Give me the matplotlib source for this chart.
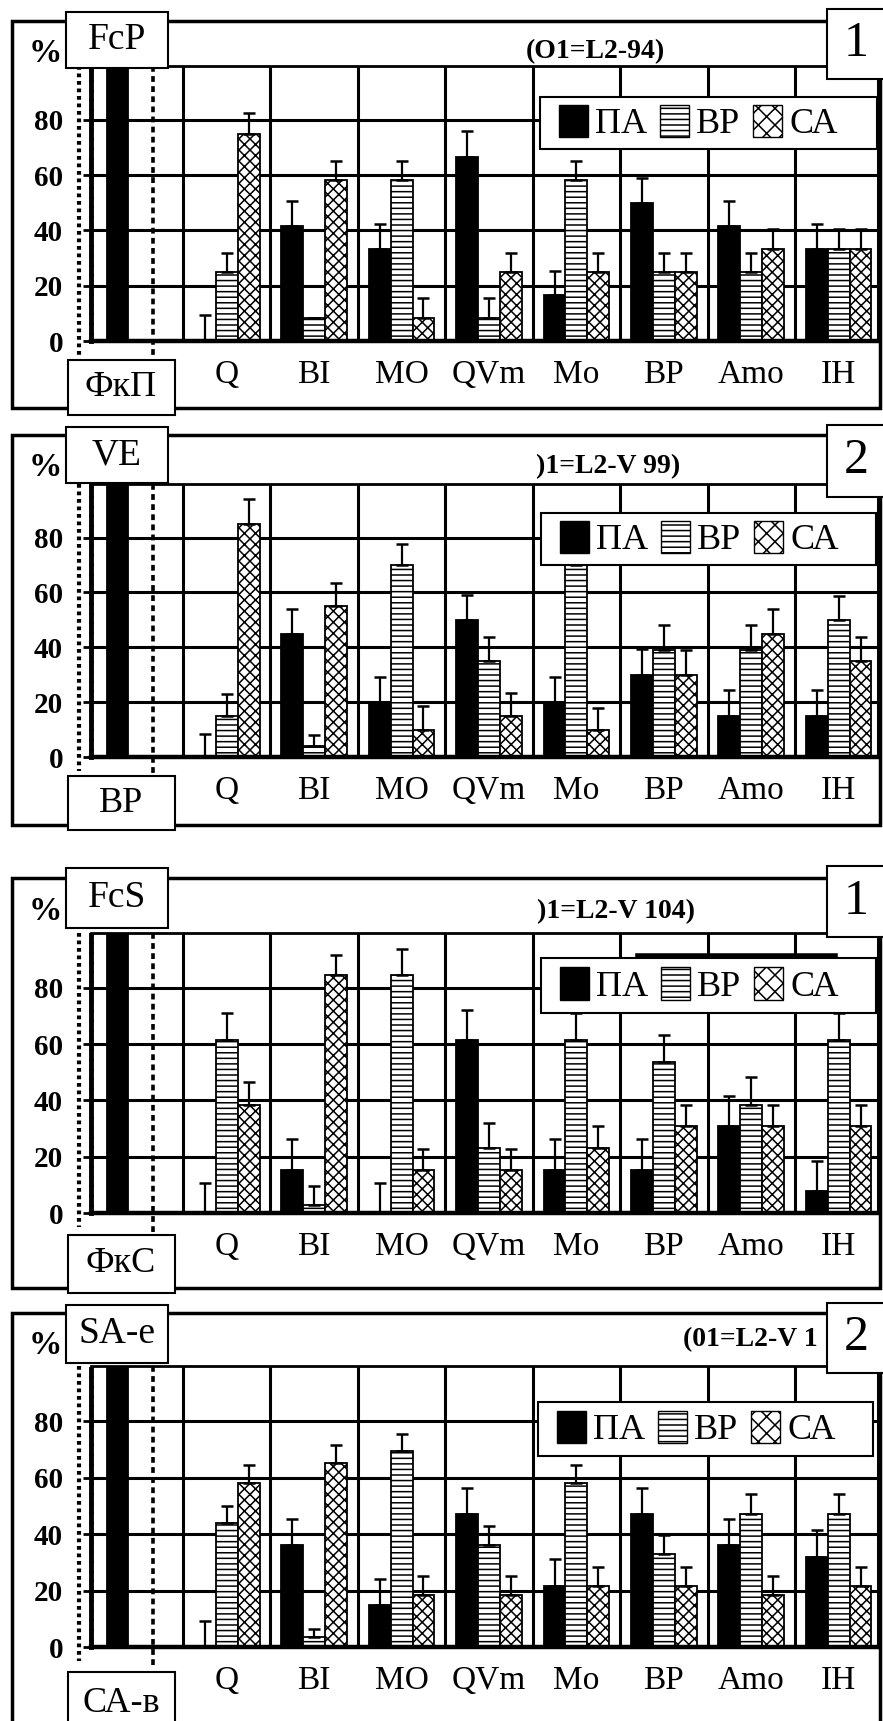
import numpy as np
import matplotlib
matplotlib.use("Agg")
import matplotlib.pyplot as plt
from matplotlib.patches import Rectangle, Patch
from matplotlib.lines import Line2D

plt.rcParams['font.family'] = ['Liberation Serif', 'DejaVu Serif']
plt.rcParams['hatch.linewidth'] = 1.1

cats = ['', 'Q', 'BI', 'MO', 'QVm', 'Mo', 'BP', 'Amo', 'IH']
series = ['ПА', 'ВР', 'СА']

# panel 1: FcP / ФкП
pa1 = [100, 0, 41.7, 33.3, 66.7, 16.7, 50, 41.7, 33.3]
pa1_err = [0, 9.3, 9.1, 9.2, 9.3, 8.7, 8.9, 9.1, 9.2]
bp1 = [0, 25, 8.3, 58.3, 8.3, 58.3, 25, 25, 33.3]
bp1_err = [0, 7, 0, 6.7, 7.3, 6.7, 7, 7, 7.4]
ca1 = [0, 75, 58.3, 8.3, 25, 25, 25, 33.3, 33.3]
ca1_err = [0, 7.4, 6.7, 7.3, 7, 7, 7, 7.2, 7.4]

# panel 2: VE / ВР
pa2 = [100, 0, 45, 20, 50, 20, 30, 15, 15]
pa2_err = [0, 8.5, 9, 9, 9, 9, 9.5, 9.5, 9.5]
bp2 = [0, 15, 4, 70, 35, 70, 39, 39, 50]
bp2_err = [0, 8, 4.2, 7.8, 8.7, 8, 9, 9, 8.5]
ca2 = [0, 85, 55, 10, 15, 10, 30, 45, 35]
ca2_err = [0, 9, 8.5, 8.5, 8.3, 8, 9, 8.8, 8.8]

# panel 3: FcS / ФкС
pa3 = [100, 0, 15.4, 0, 61.5, 15.4, 15.4, 30.8, 7.7]
pa3_err = [0, 10.7, 10.8, 10.7, 10.6, 10.8, 11, 10.8, 10.7]
bp3 = [0, 61.5, 3, 84.6, 23.1, 61.5, 53.8, 38.5, 61.5]
bp3_err = [0, 9.5, 6.5, 9.1, 9, 9.5, 9.6, 10, 9.5]
ca3 = [0, 38.5, 84.6, 15.4, 15.4, 23.1, 30.8, 30.8, 30.8]
ca3_err = [0, 8.2, 7.2, 7.5, 7.5, 7.8, 7.7, 7.7, 7.7]

# panel 4: SA-e / СА-в
pa4 = [100, 0, 36, 15, 47, 21.5, 47, 36, 32]
pa4_err = [0, 9.2, 9.5, 9, 9.2, 9.5, 9.2, 9.5, 9.5]
bp4 = [0, 44, 3.5, 69.5, 36, 58, 33, 47, 47]
bp4_err = [0, 6, 2.8, 6, 7, 6.5, 6.5, 7, 7]
ca4 = [0, 58, 65, 18.5, 18.5, 21.5, 21.5, 18.5, 21.5]
ca4_err = [0, 6.5, 6.5, 6.5, 6.5, 7, 7, 6.5, 7]

W, H = 883, 1721
fig = plt.figure(figsize=(W / 100, H / 100), dpi=100)


def rect(x0, y0, x1, y1, **kw):
    r = Rectangle((x0 / W, 1 - y1 / H), (x1 - x0) / W, (y1 - y0) / H,
                  transform=fig.transFigure, **kw)
    fig.add_artist(r)
    return r


def vline(x, y0, y1, **kw):
    fig.add_artist(Line2D([x / W, x / W], [1 - y0 / H, 1 - y1 / H],
                          transform=fig.transFigure, color='black', **kw))


def ftext(x, y, s, **kw):
    fig.text(x / W, 1 - y / H, s, **kw)


panels = [
    dict(data=(pa1, pa1_err, bp1, bp1_err, ca1, ca1_err), top='FcP', bot='ФкП',
         num='1', head='(O1=L2-94)', hx=595, hy=52,
         frame=(21, 408), plot=(66, 341), tbox=(12, 68), bbox=(360, 415),
         nbox=(9, 79), leg=(540, 97, 877, 149)),
    dict(data=(pa2, pa2_err, bp2, bp2_err, ca2, ca2_err), top='VE', bot='ВР',
         num='2', head=')1=L2-V 99)', hx=608, hy=467,
         frame=(435, 825), plot=(484, 757), tbox=(427, 483), bbox=(776, 830),
         nbox=(425, 497), leg=(541, 513, 876, 565)),
    dict(data=(pa3, pa3_err, bp3, bp3_err, ca3, ca3_err), top='FcS', bot='ФкС',
         num='1', head=')1=L2-V 104)', hx=616, hy=912,
         frame=(878, 1288), plot=(933, 1213), tbox=(868, 928), bbox=(1235, 1293),
         nbox=(866, 937), leg=(541, 958, 876, 1013)),
    dict(data=(pa4, pa4_err, bp4, bp4_err, ca4, ca4_err), top='SA-e', bot='СА-в',
         num='2', head='(01=L2-V 1', hx=750, hy=1340,
         frame=(1313, 1740), plot=(1366, 1647), tbox=(1305, 1363), bbox=(1672, 1740),
         nbox=(1303, 1373), leg=(538, 1402, 873, 1456)),
]

x = np.arange(len(cats))
bw = 0.25
styles = [dict(color='black', edgecolor='black'),
          dict(color='white', edgecolor='black', hatch='---'),
          dict(color='white', edgecolor='black', hatch='xxx')]

AX_L, AX_R = 91, 878

for i, p in enumerate(panels):
    ft, fb = p['frame']
    pt, pz = p['plot']
    # outer frame
    rect(12, ft, 880, fb, fill=False, edgecolor='black', linewidth=2.5, zorder=1)

    ax = fig.add_axes([AX_L / W, 1 - pz / H, (AX_R - AX_L) / W, (pz - pt) / H])
    ax.set_axisbelow(True)
    vals = p['data']
    for k in range(3):
        v = vals[2 * k]
        e = vals[2 * k + 1]
        xs = x + (k - 1) * bw
        ax.bar(xs, v, width=bw, linewidth=1.3, **styles[k])
        ax.errorbar(xs[1:], v[1:], yerr=[np.zeros(len(v) - 1), e[1:]], fmt='none',
                    ecolor='black', elinewidth=1.6, capsize=4, capthick=1.8)
    ax.set_xlim(-0.553, 8.45)
    ax.set_ylim(0, 99.5)
    ax.set_yticks([0, 20, 40, 60, 80])
    ax.set_xticks(x)
    ax.set_xticklabels(cats, fontsize=24)
    ax.set_xticks(np.arange(0.5, 8), minor=True)
    ax.tick_params(axis='x', which='both', length=0, pad=13)
    ax.tick_params(axis='y', length=6, width=2, pad=14, labelsize=21)
    for lab in ax.get_yticklabels():
        lab.set_fontweight('bold')
    ax.grid(which='minor', axis='x', color='black', linewidth=2.2)
    ax.grid(which='major', axis='y', color='black', linewidth=2.2)
    ax.grid(which='major', axis='x', visible=False)
    ax.spines['top'].set_linewidth(2)
    ax.spines['right'].set_linewidth(2.2)
    ax.spines['bottom'].set_linewidth(3.2)
    ax.spines['left'].set_linewidth(3.5)
    ax.spines['left'].set_linestyle((0, (1.2, 0.8)))

    # dotted / dashed markers on the left
    vline(79, pt, pz + 14, linewidth=3, linestyle=(0, (0.9, 0.9)), zorder=3)
    vline(153, pt, pz + 19, linewidth=2.6, linestyle=(0, (1.6, 1.2)), zorder=3)

    # header text
    ftext(p['hx'], p['hy'], p['head'], fontsize=20, fontweight='bold',
          ha='center', va='center')
    ftext(45, ft + 33, '%', fontsize=24, fontweight='bold', ha='center', va='center')

    # label boxes
    y0, y1 = p['tbox']
    rect(66, y0, 168, y1, facecolor='white', edgecolor='black', linewidth=1.5, zorder=10)
    ftext(117, (y0 + y1) / 2, p['top'], fontsize=27, ha='center', va='center', zorder=11)
    y0, y1 = p['bbox']
    rect(68, y0, 175, y1, facecolor='white', edgecolor='black', linewidth=1.5, zorder=10)
    ftext(121, (y0 + y1) / 2 if y1 < 1721 else 1703, p['bot'],
          fontsize=26, ha='center', va='center', zorder=11)
    y0, y1 = p['nbox']
    rect(827, y0, 900, y1, facecolor='white', edgecolor='black', linewidth=1.5, zorder=10)
    ftext(856, (y0 + y1) / 2, p['num'], fontsize=36, ha='center', va='center', zorder=11)

    # legend
    lx0, ly0, lx1, ly1 = p['leg']
    if i == 2:
        fig.add_artist(Line2D([638 / W, 835 / W], [1 - 956 / H, 1 - 956 / H],
                              transform=fig.transFigure, color='black',
                              linewidth=4, zorder=7))
    rect(lx0, ly0, lx1, ly1, facecolor='white', edgecolor='black', linewidth=1.5, zorder=8)
    handles = [Patch(facecolor='black', edgecolor='black'),
               Patch(facecolor='white', edgecolor='black', hatch='---'),
               Patch(facecolor='white', edgecolor='black', hatch='xx')]
    leg = fig.legend(handles, series, loc='center left',
                     bbox_to_anchor=((lx0 + 12) / W, 1 - (ly0 + ly1) / 2 / H),
                     frameon=False, ncol=3, fontsize=26, handlelength=0.8,
                     handleheight=1.0, handletextpad=0.2, columnspacing=0.35,
                     borderpad=0.2, borderaxespad=0)
    leg.set_zorder(9)

fig.savefig('out.png', dpi=100)
